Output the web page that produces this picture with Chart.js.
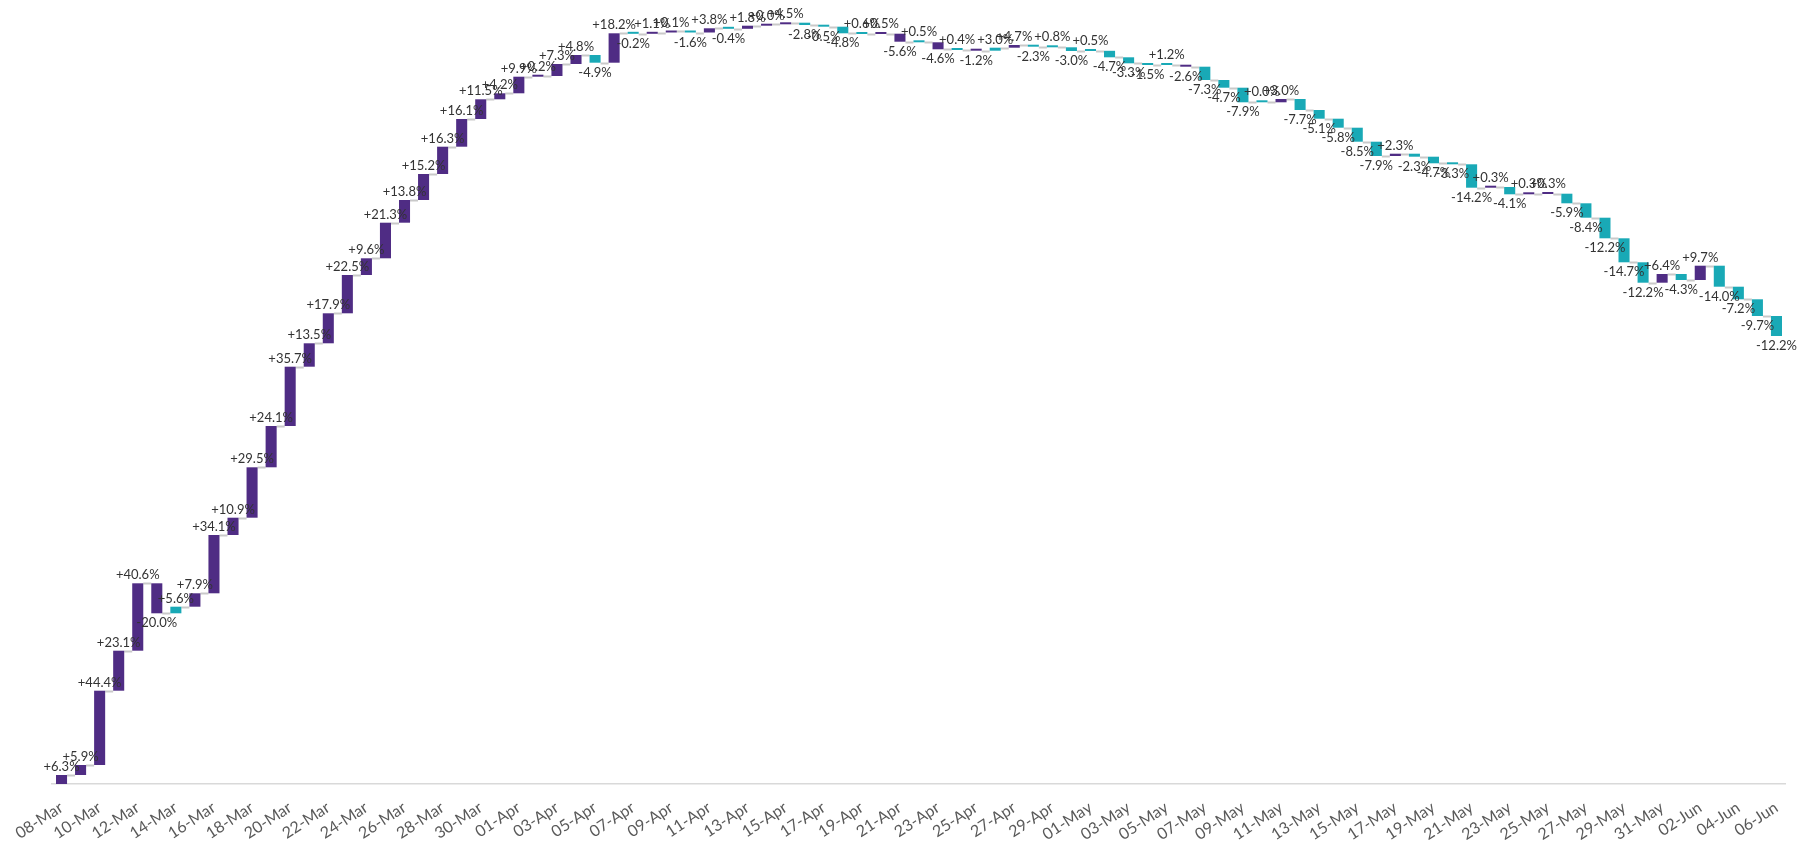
<!DOCTYPE html>
<html>
<head>
<meta charset="utf-8">
<script src="https://cdn.jsdelivr.net/npm/chart.js@4.4.1/dist/chart.umd.min.js"></script>
<style>
html, body { margin: 0; padding: 0; background: #fff; }
</style>
</head>
<body>
<canvas id="myChart" width="1801" height="852"></canvas>
<script>
var days = [
    "08-Mar", "09-Mar", "10-Mar", "11-Mar", "12-Mar", "13-Mar", "14-Mar", "15-Mar", "16-Mar", "17-Mar",
    "18-Mar", "19-Mar", "20-Mar", "21-Mar", "22-Mar", "23-Mar", "24-Mar", "25-Mar", "26-Mar", "27-Mar",
    "28-Mar", "29-Mar", "30-Mar", "31-Mar", "01-Apr", "02-Apr", "03-Apr", "04-Apr", "05-Apr", "06-Apr",
    "07-Apr", "08-Apr", "09-Apr", "10-Apr", "11-Apr", "12-Apr", "13-Apr", "14-Apr", "15-Apr", "16-Apr",
    "17-Apr", "18-Apr", "19-Apr", "20-Apr", "21-Apr", "22-Apr", "23-Apr", "24-Apr", "25-Apr", "26-Apr",
    "27-Apr", "28-Apr", "29-Apr", "30-Apr", "01-May", "02-May", "03-May", "04-May", "05-May", "06-May",
    "07-May", "08-May", "09-May", "10-May", "11-May", "12-May", "13-May", "14-May", "15-May", "16-May",
    "17-May", "18-May", "19-May", "20-May", "21-May", "22-May", "23-May", "24-May", "25-May", "26-May",
    "27-May", "28-May", "29-May", "30-May", "31-May", "01-Jun", "02-Jun", "03-Jun", "04-Jun", "05-Jun",
    "06-Jun"
];

// day-on-day change shown on each bar (%)
var changes = [
    6.3, 5.9, 44.4, 23.1, 40.6, -20.0, 5.6, 7.9, 34.1, 10.9,
    29.5, 24.1, 35.7, 13.5, 17.9, 22.5, 9.6, 21.3, 13.8, 15.2,
    16.3, 16.1, 11.5, 4.2, 9.9, 0.2, 7.3, 4.8, -4.9, 18.2,
    -0.2, 1.1, 0.1, -1.6, 3.8, -0.4, 1.8, 0.0, 4.5, -2.8,
    -0.5, -4.8, 0.6, 0.5, -5.6, 0.5, -4.6, 0.4, -1.2, 3.0,
    4.7, -2.3, 0.8, -3.0, 0.5, -4.7, -3.3, -1.5, 1.2, -2.6,
    -7.3, -4.7, -7.9, 0.0, 3.0, -7.7, -5.1, -5.8, -8.5, -7.9,
    2.3, -2.3, -4.7, -3.3, -14.2, 0.3, -4.1, 0.3, 0.3, -5.9,
    -8.4, -12.2, -14.7, -12.2, 6.4, -4.3, 9.7, -14.0, -7.2, -9.7,
    -12.2
];

// running level at the end of each day (no axis shown, read off the bar ends)
var levels = [
    9, 19, 93.3, 133.3, 200.7, 170.7, 177.3, 190.7, 249, 266.3,
    316.7, 358, 417.3, 440.7, 470.7, 509, 525.7, 561.3, 584, 610,
    637.3, 665, 684.7, 690.7, 707.3, 708, 720, 729, 721.3, 750.7,
    750.2, 751.5, 752.5, 751.5, 755.7, 755.2, 758.3, 759.7, 761.3, 759,
    757.3, 750.7, 750, 750.3, 742.3, 741.7, 734.7, 734, 733.3, 736.3,
    739, 737.3, 736.7, 733, 733.2, 726.7, 720.7, 719, 719.2, 717.3,
    704, 696.3, 681.7, 681.7, 685, 674, 665.3, 656.3, 642.3, 628,
    630.3, 627.3, 620.7, 619.7, 596.3, 597, 589.7, 590, 590.3, 580.7,
    566.3, 545.7, 521.7, 501.3, 510, 504, 518.3, 497.3, 484.7, 468,
    448
];

// bars that belong to the second (teal) series of the original chart
var tealBars = [6, 28, 30, 33, 35, 39, 40, 41, 42, 45, 47, 49, 51, 52, 53, 54, 55, 56, 57, 58,
    60, 61, 62, 63, 65, 66, 67, 68, 69, 71, 72, 73, 74, 76, 79, 80, 81, 82, 83, 85, 87, 88, 89, 90];

var PURPLE = "#4f2c84";
var TEAL = "#19a9b6";

function fmt(v) {
    return (v >= 0 ? "+" : "") + v.toFixed(1) + "%";
}

var floating = levels.map(function (v, i) {
    return [i === 0 ? 0 : levels[i - 1], v];
});
var colours = levels.map(function (v, i) {
    return tealBars.indexOf(i) >= 0 ? TEAL : PURPLE;
});

var waterfallExtras = {
    id: "waterfallExtras",
    beforeDatasetsDraw: function (chart) {
        var ctx = chart.ctx;
        var bars = chart.getDatasetMeta(0).data;
        var y = chart.scales.y;
        ctx.save();
        ctx.strokeStyle = "#c9c9c9";
        ctx.lineWidth = 2;
        for (var i = 0; i < bars.length - 1; i++) {
            var py = Math.round(y.getPixelForValue(levels[i])) + 0.5;
            ctx.beginPath();
            ctx.moveTo(bars[i].x + bars[i].width / 2, py);
            ctx.lineTo(bars[i + 1].x - bars[i + 1].width / 2, py);
            ctx.stroke();
        }
        ctx.restore();
    },
    afterDatasetsDraw: function (chart) {
        var ctx = chart.ctx;
        var bars = chart.getDatasetMeta(0).data;
        ctx.save();
        ctx.font = "13px Lato";
        ctx.fillStyle = "#333333";
        ctx.textAlign = "center";
        ctx.textBaseline = "alphabetic";
        bars.forEach(function (bar, i) {
            var top = Math.min(bar.y, bar.base);
            var bottom = Math.max(bar.y, bar.base);
            if (changes[i] >= 0) {
                ctx.fillText(fmt(changes[i]), bar.x, top - 4);
            } else {
                ctx.fillText(fmt(changes[i]), bar.x, bottom + 14);
            }
        });
        ctx.restore();
    }
};

new Chart("myChart", {
    type: "bar",
    data: {
        labels: days,
        datasets: [{
            data: floating,
            backgroundColor: colours,
            borderWidth: 0,
            barPercentage: 0.58,
            categoryPercentage: 1,
            minBarLength: 2
        }]
    },
    options: {
        responsive: false,
        animation: false,
        devicePixelRatio: 1,
        layout: { padding: { left: 52, right: 14, top: 14, bottom: 0 } },
        plugins: {
            legend: { display: false },
            tooltip: { enabled: false }
        },
        scales: {
            x: {
                grid: { display: false, drawTicks: false },
                border: { display: true, color: "#d9d9d9", width: 1.5 },
                ticks: {
                    autoSkip: false,
                    minRotation: 33,
                    maxRotation: 33,
                    padding: 14,
                    color: "#595959",
                    font: { family: "Lato", size: 16 },
                    callback: function (value, index) {
                        return index % 2 === 0 ? days[index] : "";
                    }
                },
                afterFit: function (scale) {
                    scale.height = 68;
                }
            },
            y: {
                display: false,
                min: 0,
                max: 770
            }
        }
    },
    plugins: [waterfallExtras]
});
</script>
</body>
</html>
